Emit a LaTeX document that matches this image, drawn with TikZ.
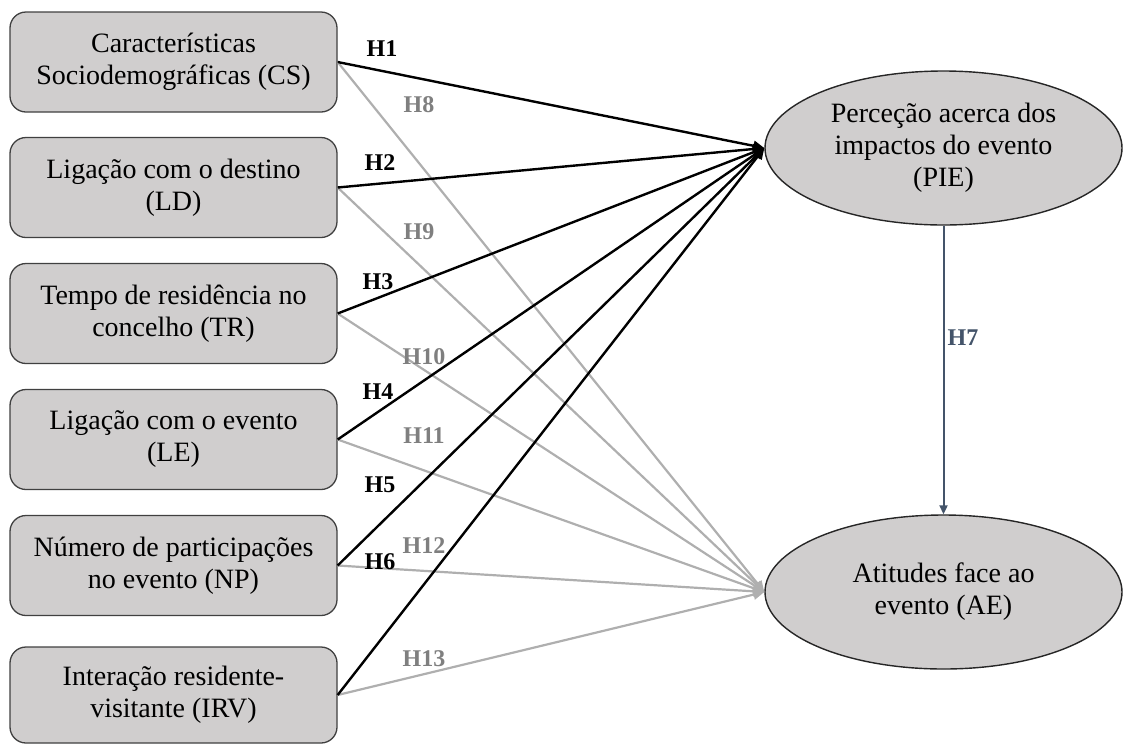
\documentclass[tikz,border=0pt]{standalone}
\usepackage{fontspec}
\setmainfont{Liberation Serif}
\usetikzlibrary{arrows.meta,shapes.geometric}
\definecolor{boxfill}{HTML}{D0CECE}
\definecolor{boxline}{HTML}{404040}
\definecolor{grayline}{HTML}{AFAFAF}
\definecolor{graylabel}{HTML}{7F7F7F}
\definecolor{hseven}{HTML}{44546A}
\tikzset{
  varbox/.style={draw=boxline, line width=1.3pt, fill=boxfill, rounded corners=16pt,
    minimum width=327pt, minimum height=100pt, inner sep=0pt, align=center,
    font=\fontsize{28}{32}\selectfont},
  constr/.style={draw=black!85, line width=1.4pt, fill=boxfill, ellipse,
    minimum width=357pt, minimum height=154pt, inner sep=0pt, align=center,
    font=\fontsize{28}{32}\selectfont},
  blackarrow/.style={line width=2.4pt, draw=black, -{Triangle[length=11pt,width=10pt]}},
  grayarrow/.style={line width=2.2pt, draw=grayline, -{Triangle[length=11pt,width=10pt]}},
  hlab/.style={font=\fontsize{24}{28}\selectfont\bfseries, inner sep=0pt},
  blab/.style={hlab, text=black},
  glab/.style={hlab, text=graylabel},
}
\begin{document}
\begin{tikzpicture}[x=1pt,y=-1pt]
\useasboundingbox (0,0) rectangle (1123,745);
% source boxes
\node[varbox] (cs) at (173.5,62) {Características\\Sociodemográficas (CS)};
\node[varbox] (ld) at (173.5,187.5) {Ligação com o destino\\(LD)};
\node[varbox] (tr) at (173.5,313.5) {Tempo de residência no\\concelho (TR)};
\node[varbox] (le) at (173.5,439.5) {Ligação com o evento\\(LE)};
\node[varbox] (np) at (173.5,565.5) {Número de participações\\no evento (NP)};
\node[varbox, minimum height=96pt] (irv) at (173.5,695) {Interação residente-\\visitante (IRV)};
% constructs
\node[constr] (pie) at (943.5,148) {Perceção acerca dos\\impactos do evento\\(PIE)};
\node[constr] (ae) at (943.5,592) {Atitudes face ao\\evento (AE)};
% gray connectors to AE
\foreach \s in {cs,ld,tr,le,np,irv}
  \draw[grayarrow] (\s.east) -- (ae.west);
% black connectors to PIE
\foreach \s in {cs,ld,tr,le,np,irv}
  \draw[blackarrow] (\s.east) -- (pie.west);
% H7
\draw[line width=2pt, draw=hseven, -{Triangle[length=9pt,width=8pt]}] (pie.south) -- (ae.north);
\node[hlab, text=hseven] (h7) at (963,338) {H7};
% labels
\node[blab] (h1) at (382,49) {H1};
\node[blab] (h2) at (380,163) {H2};
\node[blab] (h3) at (378,282) {H3};
\node[blab] (h4) at (378,392) {H4};
\node[blab] (h5) at (380,485) {H5};
\node[blab] (h6) at (380,562) {H6};
\node[glab] (h8) at (419,105) {H8};
\node[glab] (h9) at (419,232) {H9};
\node[glab] (h10) at (424,357) {H10};
\node[glab] (h11) at (424,436) {H11};
\node[glab] (h12) at (424,546) {H12};
\node[glab] (h13) at (424,659) {H13};
\end{tikzpicture}
\end{document}
